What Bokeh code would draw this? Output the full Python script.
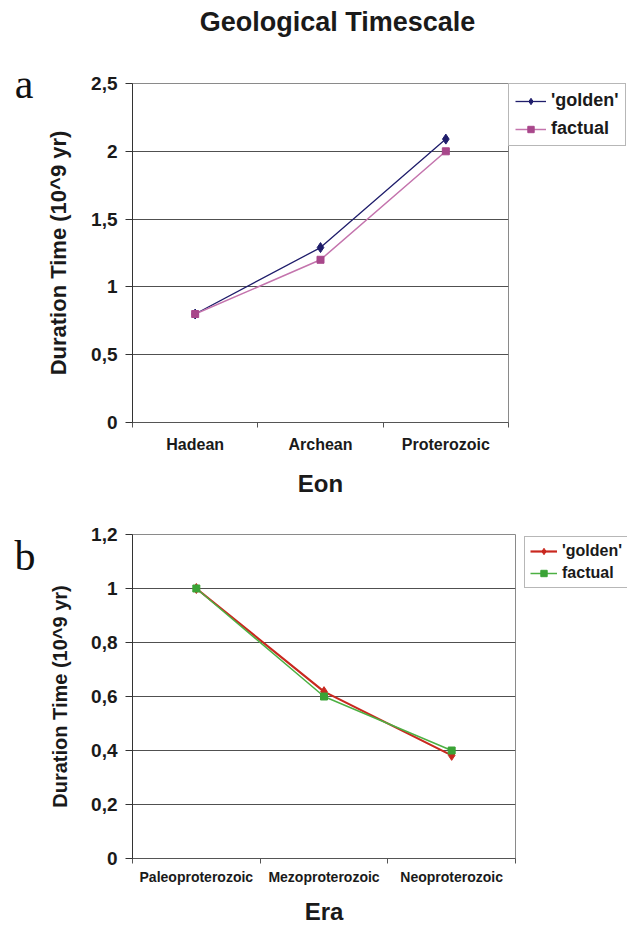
from bokeh.plotting import figure
from bokeh.models import (FactorRange, Range1d, LinearAxis, FixedTicker, Legend,
                          LegendItem)
from bokeh.layouts import column
from bokeh.embed import file_html
from bokeh.resources import INLINE

# ---------------- data ----------------
title_text = "Geological Timescale"
series_names = ["'golden'", "factual"]
y_title = "Duration Time (10^9 yr)"

eons = ["Hadean", "Archean", "Proterozoic"]
eon_golden = [0.80, 1.29, 2.09]
eon_factual = [0.80, 1.20, 2.00]
eon_yticks = [0, 0.5, 1, 1.5, 2, 2.5]
eon_ylabels = ["0", "0,5", "1", "1,5", "2", "2,5"]

eras = ["Paleoproterozoic", "Mezoproterozoic", "Neoproterozoic"]
era_golden = [1.00, 0.618, 0.382]
era_factual = [1.00, 0.60, 0.40]
era_yticks = [0, 0.2, 0.4, 0.6, 0.8, 1.0, 1.2]
era_ylabels = ["0", "0,2", "0,4", "0,6", "0,8", "1", "1,2"]

FONT = "Liberation Sans"
TXT = "#1a1a1a"


def make_panel(cats, golden, factual, yticks, ylabels, xtitle, fw, fh,
               borders, colors, fonts, xstand, legend_cfg, letter, letter_at, letter_stand):
    top, right, bottom, left = borders
    ytitle_font, xlab_font = fonts
    p = figure(x_range=FactorRange(*cats, range_padding=0),
               y_range=Range1d(yticks[0], yticks[-1]),
               x_axis_type=None, frame_width=fw, frame_height=fh,
               min_border_top=top, min_border_right=right,
               min_border_bottom=bottom, min_border_left=left,
               toolbar_location=None, output_backend="svg")
    p.title = None
    p.outline_line_color = "#8a8a8a"
    p.outline_line_width = 1
    p.background_fill_color = "white"
    p.border_fill_color = "white"

    # y axis
    p.yaxis.ticker = FixedTicker(ticks=yticks)
    p.yaxis.major_label_overrides = dict(zip(yticks, ylabels))
    p.yaxis.axis_line_color = "#333333"
    p.yaxis.major_tick_line_color = "#333333"
    p.yaxis.major_tick_out = 7
    p.yaxis.major_tick_in = 0
    p.yaxis.minor_tick_line_color = None
    p.yaxis.major_label_standoff = 8
    p.yaxis.major_label_text_font = FONT
    p.yaxis.major_label_text_font_size = "19px"
    p.yaxis.major_label_text_font_style = "bold"
    p.yaxis.major_label_text_color = TXT
    p.yaxis.axis_label = y_title
    p.yaxis.axis_label_text_font = FONT
    p.yaxis.axis_label_text_font_size = ytitle_font
    p.yaxis.axis_label_text_font_style = "bold"
    p.yaxis.axis_label_text_color = TXT
    p.yaxis.axis_label_standoff = 17
    p.ygrid.grid_line_color = "#505050"
    p.ygrid.grid_line_width = 1.2

    # panel letter (a / b) as a tick label of a bare outer left axis
    lax = LinearAxis(ticker=FixedTicker(ticks=[letter_at]),
                     major_label_overrides={letter_at: letter})
    lax.axis_line_color = None
    lax.major_tick_line_color = None
    lax.minor_tick_line_color = None
    lax.major_label_standoff = letter_stand
    lax.major_label_text_font = "Liberation Serif"
    lax.major_label_text_font_size = "42px"
    lax.major_label_text_color = "#111111"
    p.add_layout(lax, "left")

    # x axis: labels centered on categories, tick marks on category boundaries
    n = len(cats)
    centers = [i + 0.5 for i in range(n)]
    xaxis = LinearAxis(ticker=FixedTicker(ticks=centers, minor_ticks=list(range(n + 1))),
                       major_label_overrides=dict(zip(centers, cats)))
    xaxis.axis_line_color = "#555555"
    xaxis.major_tick_line_color = None
    xaxis.minor_tick_line_color = "#555555"
    xaxis.minor_tick_out = 5
    xaxis.minor_tick_in = 0
    xaxis.major_label_standoff = xstand[0]
    xaxis.major_label_text_font = FONT
    xaxis.major_label_text_font_size = xlab_font
    xaxis.major_label_text_font_style = "bold"
    xaxis.major_label_text_color = TXT
    xaxis.axis_label = xtitle
    xaxis.axis_label_text_font = FONT
    xaxis.axis_label_text_font_size = "24px"
    xaxis.axis_label_text_font_style = "bold"
    xaxis.axis_label_text_color = TXT
    xaxis.axis_label_standoff = xstand[1]
    p.add_layout(xaxis, "below")

    gcol, fcol_line, fcol_mark, glw, flw = colors
    lg = p.line(x=cats, y=golden, line_color=gcol, line_width=glw)
    mg = p.scatter(x=cats, y=golden, marker="diamond", size=10,
                   fill_color=gcol, line_color=gcol)
    lf = p.line(x=cats, y=factual, line_color=fcol_line, line_width=flw)
    mf = p.scatter(x=cats, y=factual, marker="square", size=7,
                   fill_color=fcol_mark, line_color=fcol_mark)

    loc, lfont, pad, lspacing, gw = legend_cfg
    legend = Legend(items=[LegendItem(label=series_names[0], renderers=[lg, mg]),
                           LegendItem(label=series_names[1], renderers=[lf, mf])],
                    location=loc, margin=0, padding=pad, spacing=lspacing,
                    glyph_width=gw, glyph_height=16, label_standoff=5,
                    label_text_font=FONT, label_text_font_size=lfont,
                    label_text_font_style="bold", label_text_color=TXT,
                    border_line_color="#707070", border_line_width=1,
                    background_fill_color="white", background_fill_alpha=1)
    p.add_layout(legend, "right")
    return p


pa = make_panel(eons, eon_golden, eon_factual, eon_yticks, eon_ylabels, "Eon",
                376, 339, (83, 119, 78, 132),
                ("#1f1d6b", "#c474ad", "#a8478b", 1.3, 1.5), ("22px", "16px"), (7, 14),
                ("top_left", "18px", 6, 7, 31), "a", 2.5, 4)

# chart title, drawn as the single label of a bare axis above panel a
title_pos = 1.636
tax = LinearAxis(ticker=FixedTicker(ticks=[title_pos]),
                 major_label_overrides={title_pos: title_text})
tax.axis_line_color = None
tax.major_tick_line_color = None
tax.minor_tick_line_color = None
tax.major_label_standoff = 41
tax.major_label_text_font = FONT
tax.major_label_text_font_size = "27px"
tax.major_label_text_font_style = "bold"
tax.major_label_text_color = TXT
pa.add_layout(tax, "above")

pb = make_panel(eras, era_golden, era_factual, era_yticks, era_ylabels, "Era",
                383, 324, (34, 112, 67, 132),
                ("#c9281f", "#4cb043", "#3aa336", 2.2, 1.5), ("20px", "14px"), (4, 10),
                ((9, 270), "16px", 5, 4, 27), "b", 1.12, 5)

layout = column(pa, pb, spacing=0)
open("out.html", "w").write(file_html(layout, INLINE))
